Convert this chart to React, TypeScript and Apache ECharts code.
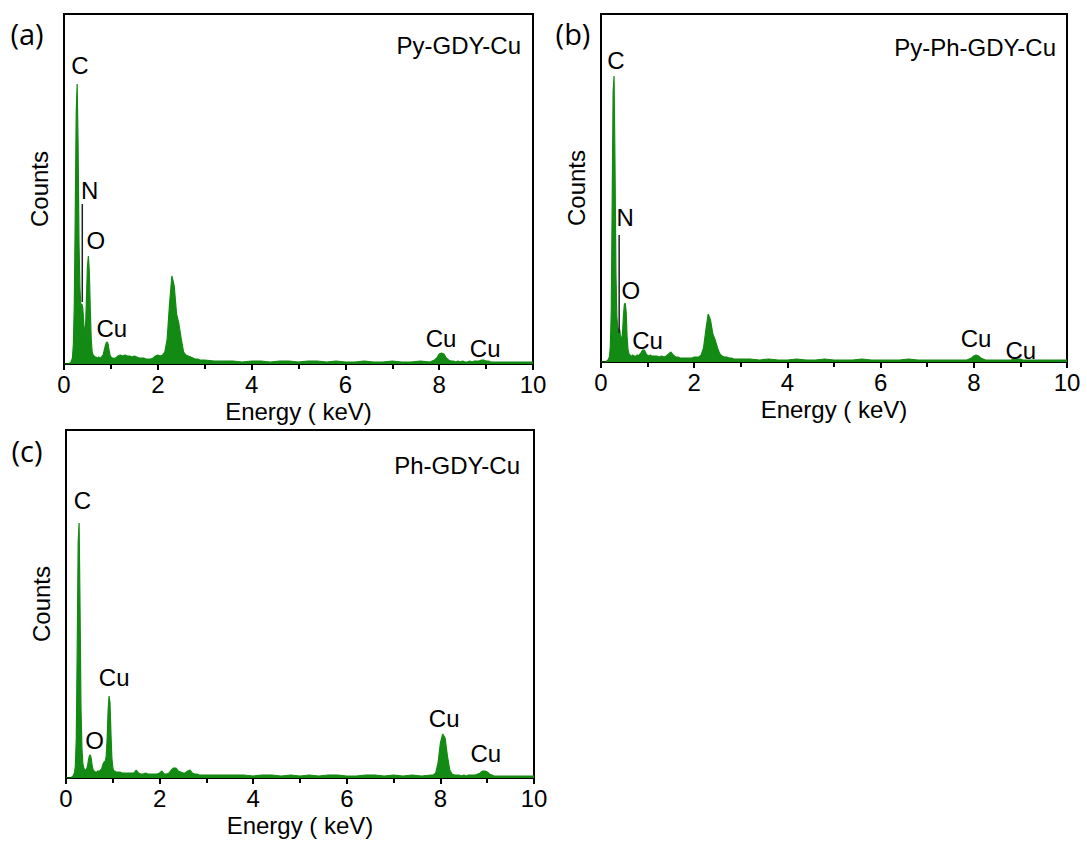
import React, { useEffect, useRef } from "react";
import * as echarts from "echarts";

// Energy axis (keV) shared by the three spectra
const energy = [
  0, 0.1, 0.15, 0.18,
  0.2, 0.22, 0.24, 0.26, 0.28, 0.3, 0.32, 0.34, 0.36, 0.38,
  0.4, 0.42, 0.44, 0.46, 0.48, 0.5, 0.52, 0.54, 0.56, 0.58,
  0.6, 0.62, 0.64, 0.66, 0.68, 0.7, 0.72, 0.74, 0.76, 0.78,
  0.8, 0.82, 0.84, 0.86, 0.88, 0.9, 0.92, 0.94, 0.96, 0.98,
  1.0, 1.02, 1.04, 1.06, 1.08, 1.1,
  1.15, 1.2, 1.25, 1.3, 1.35, 1.4, 1.45, 1.5, 1.55, 1.6,
  1.65, 1.7, 1.75, 1.8, 1.85, 1.9, 1.95, 2.0, 2.05, 2.1,
  2.15, 2.2, 2.25, 2.3, 2.35, 2.4, 2.45, 2.5, 2.55, 2.6,
  2.65, 2.7, 2.75, 2.8, 2.85, 2.9, 2.95, 3.0,
  3.2, 3.4, 3.6, 3.8, 4.0, 4.2, 4.4, 4.6, 4.8, 5.0,
  5.2, 5.4, 5.6, 5.8, 6.0, 6.2, 6.4, 6.6, 6.8, 7.0,
  7.2, 7.4, 7.6, 7.8,
  7.85, 7.9, 7.95, 8.0, 8.05, 8.1, 8.15, 8.2, 8.25, 8.3,
  8.35, 8.4, 8.45, 8.5, 8.55, 8.6, 8.65, 8.7, 8.75, 8.8,
  8.85, 8.9, 8.95, 9.0, 9.05, 9.1, 9.15, 9.2,
  9.4, 9.6, 9.8, 10,
];

// (a) Py-GDY-Cu counts
const countsA = [
  0, 0, 2, 6,
  20, 60, 150, 250, 280, 220, 120, 75, 58, 60,
  56, 42, 30, 38, 68, 98, 108, 92, 55, 25,
  12, 9, 8, 7, 7, 6, 6, 7, 6, 6,
  7, 8, 10, 14, 18, 21, 22, 20, 14, 9,
  7, 6, 6, 6, 5, 6,
  8, 9, 8, 9, 8, 8, 7, 8, 7, 6,
  6, 6, 5, 5, 5, 6, 8, 9, 8, 9,
  12, 25, 60, 88, 78, 50, 40, 25, 12, 9,
  8, 7, 6, 5, 5, 4, 4, 4,
  3, 3, 3, 2, 3, 3, 2, 3, 3, 2,
  3, 3, 2, 3, 2, 2, 3, 2, 2, 3,
  2, 2, 3, 2,
  3, 4, 6, 10, 11, 10, 6, 4, 3, 3,
  2, 3, 2, 3, 2, 2, 3, 2, 3, 3,
  3, 4, 4, 3, 3, 2, 2, 2,
  2, 2, 2, 2,
];

// (b) Py-Ph-GDY-Cu counts
const countsB = [
  0, 0, 2, 5,
  15, 50, 160, 270, 286, 200, 90, 45, 35, 32,
  33, 25, 22, 28, 45, 57, 59, 50, 25, 12,
  8, 7, 6, 6, 7, 6, 6, 6, 6, 7,
  6, 7, 8, 9, 11, 12, 12, 11, 9, 7,
  7, 6, 6, 7, 6, 6,
  6, 6, 5, 6, 5, 6, 8, 10, 7, 5,
  5, 4, 4, 4, 4, 4, 4, 5, 5, 5,
  7, 14, 32, 48, 42, 28, 22, 14, 8, 6,
  5, 5, 4, 4, 3, 3, 3, 3,
  3, 2, 3, 2, 2, 3, 2, 2, 3, 2,
  2, 2, 3, 2, 2, 2, 2, 3, 2, 2,
  2, 2, 2, 2,
  2, 3, 4, 6, 7, 6, 4, 3, 2, 2,
  2, 2, 2, 2, 2, 2, 2, 2, 2, 2,
  3, 3, 3, 3, 2, 2, 2, 2,
  2, 2, 2, 2,
];

// (c) Ph-GDY-Cu counts
const countsC = [
  0, 0, 2, 5,
  12, 40, 130, 235, 255, 170, 70, 30, 14, 10,
  8, 8, 9, 12, 18, 22, 23, 19, 12, 8,
  7, 6, 6, 6, 7, 7, 7, 8, 9, 12,
  15, 16, 17, 22, 40, 68, 82, 75, 45, 20,
  10, 7, 7, 6, 6, 6,
  6, 5, 5, 5, 5, 5, 5, 8, 5, 4,
  4, 5, 4, 4, 4, 4, 4, 5, 7, 4,
  4, 5, 8, 10, 10, 7, 6, 5, 5, 7,
  8, 5, 4, 4, 3, 3, 3, 3,
  3, 3, 3, 3, 2, 3, 3, 2, 3, 2,
  3, 2, 3, 3, 2, 2, 3, 3, 2, 3,
  2, 3, 2, 3,
  3, 5, 15, 35, 44, 40, 22, 8, 4, 3,
  3, 3, 2, 3, 2, 3, 3, 3, 3, 4,
  5, 7, 7, 6, 4, 3, 2, 2,
  2, 2, 2, 2,
];

// Peak annotations: [label, energy, counts]
const peakLabelsA: [string, number, number][] = [
  ["C", 0.34, 299], ["N", 0.55, 174], ["O", 0.68, 124], ["Cu", 1.02, 36], ["Cu", 8.04, 26], ["Cu", 8.98, 16],
];
const peakLabelsB: [string, number, number][] = [
  ["C", 0.32, 302], ["N", 0.52, 145], ["O", 0.64, 72], ["Cu", 1.0, 22], ["Cu", 8.05, 24], ["Cu", 9.01, 12],
];
const peakLabelsC: [string, number, number][] = [
  ["C", 0.35, 278], ["O", 0.61, 38], ["Cu", 1.03, 101], ["Cu", 8.08, 60], ["Cu", 8.97, 25],
];
// N leader lines: [energy, top, bottom]
const leaderA = [0.39, 160, 62];
const leaderB = [0.39, 127, 29];

const sampleNames = ["Py-GDY-Cu", "Py-Ph-GDY-Cu", "Ph-GDY-Cu"];
const panelLetters = ["(a)", "(b)", "(c)"];
const xTicks = [0, 2, 4, 6, 8, 10];

const GREEN = "#138a13";
const FONT = "'Liberation Sans', Arial, sans-serif";

export default function App() {
  const ref = useRef<HTMLDivElement>(null);
  useEffect(() => {
    document.body.style.margin = "0";
    const chart = echarts.init(ref.current!, null, { renderer: "svg" });
    const grids = [
      { left: 64, top: 14, width: 469, height: 350 },
      { left: 601, top: 14, width: 466, height: 348 },
      { left: 66, top: 430, width: 468, height: 348 },
    ];
    const yMax = [350, 348, 348];
    const counts = [countsA, countsB, countsC];
    const labels = [peakLabelsA, peakLabelsB, peakLabelsC];
    const leaders: (number[] | null)[] = [leaderA, leaderB, null];

    const series: any[] = [];
    counts.forEach((c, i) => {
      series.push({
        type: "line",
        xAxisIndex: i,
        yAxisIndex: i,
        data: energy.map((e, k) => [e, c[k]]),
        symbol: "none",
        lineStyle: { color: GREEN, width: 1.2 },
        areaStyle: { color: GREEN, opacity: 1 },
        z: 2,
      });
      const ld = leaders[i];
      if (ld) {
        series.push({
          type: "line",
          xAxisIndex: i,
          yAxisIndex: i,
          data: [[ld[0], ld[1]], [ld[0], ld[2]]],
          symbol: "none",
          lineStyle: { color: "#222", width: 1.5 },
          z: 3,
        });
      }
      series.push({
        type: "scatter",
        xAxisIndex: i,
        yAxisIndex: i,
        symbolSize: 0,
        itemStyle: { opacity: 1, color: "#000" },
        data: labels[i].map((l) => [l[1], l[2], l[0]]),
        label: {
          show: true,
          position: "inside",
          formatter: (p: any) => p.value[2],
          fontSize: 24,
          fontFamily: FONT,
          color: "#000",
          opacity: 1,
        },
        z: 4,
      });
    });

    const graphic: any[] = [];
    const titlePos = [
      [521, 45],
      [1056, 47],
      [520, 465],
    ];
    const letterPos = [
      [27, 33],
      [573, 33],
      [27, 450],
    ];
    sampleNames.forEach((n, i) => {
      graphic.push({
        type: "text",
        x: titlePos[i][0],
        y: titlePos[i][1],
        style: { text: n, fontSize: 24, fontFamily: FONT, fill: "#000", align: "right", verticalAlign: "middle" },
      });
      graphic.push({
        type: "text",
        x: letterPos[i][0],
        y: letterPos[i][1],
        style: { text: panelLetters[i], fontSize: 29, fontFamily: "'Open Sans', sans-serif", fill: "#000", align: "center", verticalAlign: "middle" },
      });
    });

    chart.setOption({
      animation: false,
      backgroundColor: "#fff",
      grid: grids.map((g) => ({ ...g, show: true, borderColor: "#000", borderWidth: 2, backgroundColor: "transparent" })),
      xAxis: grids.map((_, i) => ({
        type: "value",
        gridIndex: i,
        min: xTicks[0],
        max: xTicks[xTicks.length - 1],
        interval: 2,
        name: "Energy ( keV)",
        nameLocation: "middle",
        nameGap: 35,
        nameTextStyle: { fontSize: 24, fontFamily: FONT, color: "#000" },
        axisLine: { lineStyle: { color: "#000", width: 2 } },
        axisTick: { show: true, length: 6, lineStyle: { color: "#000", width: 2 } },
        minorTick: { show: true, splitNumber: 2, length: 5, lineStyle: { color: "#000", width: 2 } },
        axisLabel: { fontSize: 24, fontFamily: FONT, color: "#000", margin: 8 },
        splitLine: { show: false },
      })),
      yAxis: grids.map((_, i) => ({
        type: "value",
        gridIndex: i,
        min: 0,
        max: yMax[i],
        name: "Counts",
        nameLocation: "middle",
        nameGap: 13,
        nameTextStyle: { fontSize: 24, fontFamily: FONT, color: "#000" },
        axisLine: { show: true, lineStyle: { color: "#000", width: 2 } },
        axisTick: { show: false },
        axisLabel: { show: false },
        splitLine: { show: false },
      })),
      series,
      graphic,
    });
    return () => chart.dispose();
  }, []);
  return <div ref={ref} style={{ width: 1087, height: 846 }} />;
}
